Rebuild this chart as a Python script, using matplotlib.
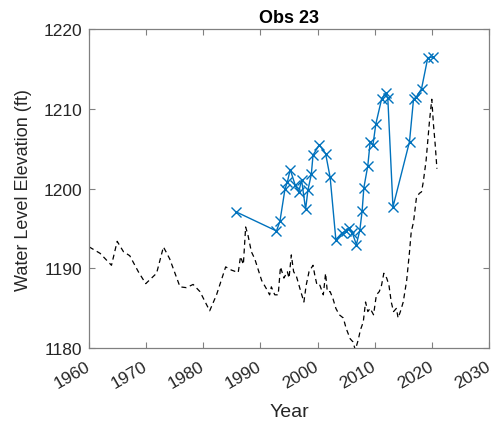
import matplotlib
matplotlib.use("Agg")
import matplotlib.pyplot as plt

plt.rcParams['font.family'] = ['Liberation Sans', 'DejaVu Sans']

# Observed water levels (blue x markers)
obs_year = [1985.7, 1992.8, 1993.4, 1994.3, 1994.7, 1995.2, 1996.1, 1996.7, 1997.2,
            1997.9, 1998.3, 1998.9, 1999.2, 2000.3, 2001.4, 2002.2, 2003.2, 2004.2,
            2004.9, 2005.5, 2006.1, 2006.8, 2007.4, 2007.8, 2008.1, 2008.8, 2009.2,
            2009.7, 2010.2, 2011.2, 2011.9, 2012.3, 2013.2, 2016.1, 2016.8, 2017.3,
            2018.2, 2019.3, 2020.2]
obs_level = [1197.1, 1194.7, 1195.9, 1200.0, 1200.8, 1202.4, 1200.4, 1199.6, 1201.1,
             1197.4, 1199.8, 1201.8, 1204.2, 1205.5, 1204.4, 1201.4, 1193.6, 1194.4,
             1194.7, 1195.1, 1194.4, 1193.0, 1194.8, 1197.2, 1200.1, 1202.9, 1205.8,
             1205.5, 1208.1, 1211.2, 1212.0, 1211.3, 1197.7, 1205.9, 1211.2, 1211.5,
             1212.5, 1216.4, 1216.5]

# Simulated / reference water levels (black dashed)
sim_year = [1960.0, 1961.9, 1963.9, 1964.9, 1966.0, 1967.1, 1968.6, 1969.9, 1971.8,
            1973.0, 1974.1, 1975.9, 1977.0, 1978.2, 1979.4, 1981.1, 1982.3, 1983.9,
            1984.9, 1986.1, 1986.5, 1987.0, 1987.4, 1987.8, 1988.4, 1989.0, 1990.2,
            1991.0, 1991.6, 1991.9, 1992.5, 1993.1, 1993.5, 1994.1, 1994.7, 1995.0,
            1995.4, 1995.8, 1996.3, 1996.9, 1997.6, 1998.0, 1998.5, 1999.2, 1999.5,
            1999.9, 2000.4, 2001.0, 2001.4, 2001.7, 2002.2, 2002.7, 2003.2, 2003.8,
            2004.5, 2005.0, 2005.7, 2006.2, 2006.6, 2007.1, 2007.5, 2008.0, 2008.4,
            2008.8, 2009.2, 2009.8, 2010.3, 2010.8, 2011.2, 2011.6, 2012.1, 2012.5,
            2012.9, 2013.3, 2013.8, 2014.1, 2014.5, 2015.0, 2015.6, 2016.1, 2016.4,
            2016.8, 2017.3, 2017.8, 2018.2, 2018.5, 2019.0, 2019.3, 2019.6, 2020.0,
            2020.3, 2020.6, 2020.9]
sim_level = [1192.7, 1191.9, 1190.4, 1193.4, 1192.1, 1191.6, 1189.6, 1188.1, 1189.4,
             1192.7, 1191.2, 1187.7, 1187.6, 1188.0, 1187.1, 1184.7, 1186.7, 1190.2,
             1189.8, 1189.5, 1191.5, 1190.5, 1195.2, 1194.2, 1192.1, 1191.2, 1188.5,
             1187.5, 1186.7, 1187.7, 1186.7, 1186.7, 1190.2, 1188.8, 1189.6, 1188.8,
             1191.7, 1189.6, 1189.0, 1187.5, 1185.8, 1187.9, 1189.6, 1190.4, 1189.2,
             1187.9, 1187.9, 1186.7, 1189.4, 1187.1, 1187.1, 1186.2, 1185.0, 1184.2,
             1183.8, 1182.5, 1181.2, 1180.8, 1179.8, 1181.0, 1182.3, 1183.3, 1185.8,
             1184.6, 1185.0, 1184.2, 1186.7, 1187.1, 1187.9, 1189.4, 1188.8, 1187.9,
             1185.8, 1184.6, 1185.0, 1183.8, 1184.6, 1185.8, 1188.5, 1192.1, 1194.6,
             1195.8, 1198.8, 1199.4, 1199.6, 1200.8, 1203.5, 1206.0, 1208.5, 1211.2,
             1208.0, 1205.5, 1202.5]

x_ticks = [1960, 1970, 1980, 1990, 2000, 2010, 2020, 2030]
y_ticks = [1180, 1190, 1200, 1210, 1220]

fig = plt.figure(figsize=(5.04, 4.35), dpi=100)
ax = fig.add_axes([0.177, 0.197, 0.793, 0.734])

ax.plot(sim_year, sim_level, color='black', linestyle=(0, (4, 3)), linewidth=0.9)
ax.plot(obs_year, obs_level, color='#0072BD', linewidth=1.0, marker='x',
        markersize=7, markeredgewidth=1.0)

ax.set_xlim(1960, 2030)
ax.set_ylim(1180, 1220)
ax.set_xticks(x_ticks)
ax.set_yticks(y_ticks)

axis_col = '#808080'
text_col = '#262626'
for s in ax.spines.values():
    s.set_color(axis_col)
    s.set_linewidth(0.9)
ax.tick_params(direction='in', length=4, width=0.8, color=axis_col,
               top=True, right=True, labelsize=12.5, labelcolor=text_col)
plt.setp(ax.get_xticklabels(), rotation=30, ha='right', va='center',
         rotation_mode='anchor')
ax.tick_params(axis='x', pad=12)
ax.tick_params(axis='y', pad=5)

ax.set_xlabel('Year', fontsize=14, color=text_col, labelpad=9)
ax.set_ylabel('Water Level Elevation (ft)', fontsize=13, color=text_col, labelpad=8)
ax.set_title('Obs 23', fontsize=13, fontweight='bold', pad=5)

fig.savefig('out.png', dpi=100)
